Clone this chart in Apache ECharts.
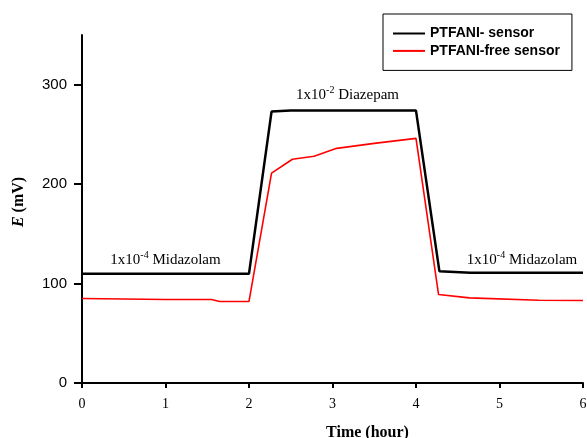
<!DOCTYPE html>
<html><head><meta charset="utf-8">
<script src="https://cdn.jsdelivr.net/npm/echarts@6/dist/echarts.min.js"></script>
<style>html,body{margin:0;padding:0;background:#fff}#c{width:587px;height:438px}</style>
</head><body><div id="c"></div>
<script>
var seriesNames = ['PTFANI- sensor', 'PTFANI-free sensor'];
var blackTime = [0, 2, 2.27, 2.5, 4, 4.28, 4.65, 6];
var blackE = [110, 110, 273, 274, 274, 112.5, 111, 111];
var redTime = [0, 1, 1.55, 1.65, 2, 2.27, 2.52, 2.78, 3.05, 3.5, 4, 4.27, 4.64, 5.47, 6];
var redE = [85, 84, 84, 82, 82, 211, 225, 228, 236, 241, 246, 89, 85.6, 83.2, 83];
var xTicks = [0, 1, 2, 3, 4, 5, 6];
var yTicks = [0, 100, 200, 300];
var annoText = ['1x10{sup|-4} Midazolam', '1x10{sup|-2} Diazepam', '1x10{sup|-4} Midazolam'];
var annoX = [1, 3.18, 5.27];
var annoY = [124, 290, 124];

function pairs(xs, ys){ return xs.map(function(x,i){ return [x, ys[i]]; }); }

var chart = echarts.init(document.getElementById('c'), null, {renderer:'canvas'});
var serif = 'Liberation Serif';
var sans = 'Liberation Sans';
chart.setOption({
  animation: false,
  backgroundColor: '#fff',
  grid: {left: 82, right: 4, top: 35, bottom: 55, containLabel: false, outerBoundsMode: 'none'},
  legend: {
    orient: 'vertical', left: 383, top: 14,
    padding: [12, 12, 12, 10],
    borderColor: '#000', borderWidth: 1,
    itemWidth: 32, itemHeight: 2, itemGap: 2.4,
    icon: 'rect',
    textStyle: {fontFamily: sans, fontWeight: 'bold', fontSize: 14, color: '#000', lineHeight: 15},
    data: seriesNames
  },
  xAxis: {
    type: 'value', min: 0, max: 6, interval: 1,
    name: 'Time (hour)', nameLocation: 'middle', nameGap: 42,
    nameTextStyle: {fontFamily: serif, fontWeight: 'bold', fontSize: 16, color: '#000', padding: [0,0,0,70]},
    axisLine: {lineStyle: {color: '#000', width: 2}},
    axisTick: {show: true, length: 5, lineStyle: {color: '#000', width: 2}, customValues: xTicks},
    axisLabel: {fontFamily: serif, fontSize: 14, color: '#000', margin: 14, customValues: xTicks},
    splitLine: {show: false}
  },
  yAxis: {
    type: 'value', min: 0, max: 350, interval: 100,
    name: '{i|E} (mV)', nameLocation: 'middle', nameGap: 55,
    nameTextStyle: {fontFamily: serif, fontWeight: 'bold', fontSize: 16, color: '#000', padding: [0,0,0,14],
      rich: {i: {fontFamily: serif, fontWeight: 'bold', fontStyle: 'italic', fontSize: 16, color: '#000'}}},
    axisLine: {show: true, lineStyle: {color: '#000', width: 2}},
    axisTick: {show: true, length: 8, lineStyle: {color: '#000', width: 2}, customValues: yTicks},
    axisLabel: {fontFamily: sans, fontSize: 15, color: '#000', margin: 15, customValues: yTicks},
    splitLine: {show: false}
  },
  series: [
    {
      name: seriesNames[0], type: 'line', data: pairs(blackTime, blackE),
      color: '#000', showSymbol: false, symbol: 'none',
      lineStyle: {color: '#000', width: 2.5},
      markPoint: {
        symbol: 'circle', symbolSize: 0,
        label: {
          show: true, position: 'inside', color: '#000',
          fontFamily: serif, fontSize: 15,
          rich: {sup: {fontFamily: serif, fontSize: 10, color: '#000', padding: [0,0,8,0]}}
        },
        data: annoText.map(function(t,i){
          return {coord: [annoX[i], annoY[i]], label: {formatter: t}};
        })
      },
      z: 3
    },
    {
      name: seriesNames[1], type: 'line', data: pairs(redTime, redE),
      color: '#ff0000', showSymbol: false, symbol: 'none',
      lineStyle: {color: '#ff0000', width: 1.6},
      z: 2
    }
  ]
});
</script></body></html>
